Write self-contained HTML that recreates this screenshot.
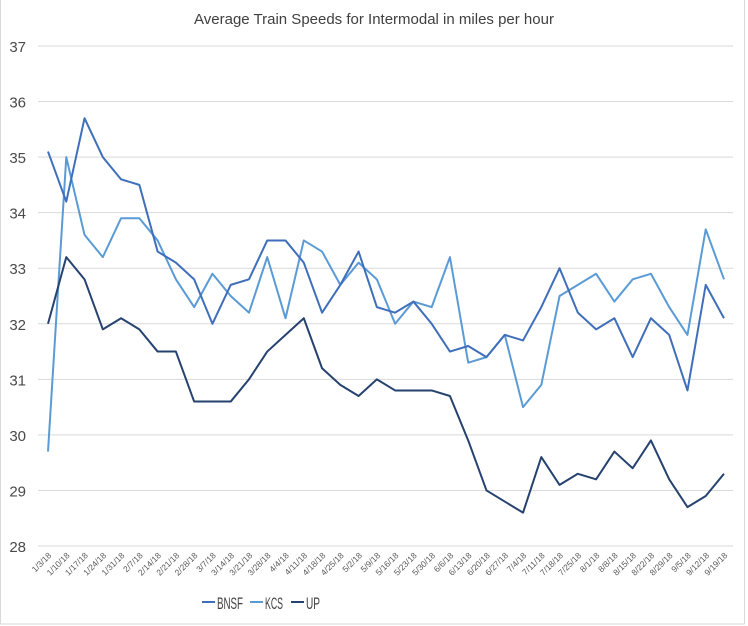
<!DOCTYPE html>
<html><head><meta charset="utf-8"><style>
body{margin:0;background:#fff;font-family:"Liberation Sans",sans-serif}
#wrap{position:relative;width:748px;height:626px;overflow:hidden}
</style></head><body>
<div id="wrap">
<svg id="chart" width="748" height="626"></svg>
</div>
<script>
const categories=["1/3/18","1/10/18","1/17/18","1/24/18","1/31/18","2/7/18","2/14/18","2/21/18","2/28/18","3/7/18","3/14/18","3/21/18","3/28/18","4/4/18","4/11/18","4/18/18","4/25/18","5/2/18","5/9/18","5/16/18","5/23/18","5/30/18","6/6/18","6/13/18","6/20/18","6/27/18","7/4/18","7/11/18","7/18/18","7/25/18","8/1/18","8/8/18","8/15/18","8/22/18","8/29/18","9/5/18","9/12/18","9/19/18"];
const bnsf=[35.1,34.2,35.7,35.0,34.6,34.5,33.3,33.1,32.8,32.0,32.7,32.8,33.5,33.5,33.1,32.2,32.7,33.3,32.3,32.2,32.4,32.0,31.5,31.6,31.4,31.8,31.7,32.3,33.0,32.2,31.9,32.1,31.4,32.1,31.8,30.8,32.7,32.1];
const kcs=[29.7,35.0,33.6,33.2,33.9,33.9,33.5,32.8,32.3,32.9,32.5,32.2,33.2,32.1,33.5,33.3,32.7,33.1,32.8,32.0,32.4,32.3,33.2,31.3,31.4,31.8,30.5,30.9,32.5,32.7,32.9,32.4,32.8,32.9,32.3,31.8,33.7,32.8];
const up=[32.0,33.2,32.8,31.9,32.1,31.9,31.5,31.5,30.6,30.6,30.6,31.0,31.5,31.8,32.1,31.2,30.9,30.7,31.0,30.8,30.8,30.8,30.7,29.9,29.0,28.8,28.6,29.6,29.1,29.3,29.2,29.7,29.4,29.9,29.2,28.7,28.9,29.3];
const yTicks=[28,29,30,31,32,33,34,35,36,37];

const NS="http://www.w3.org/2000/svg";
const svg=document.getElementById('chart');
const yMin=28,yMax=37,plotTop=46,plotBot=546,x0=48,x1=724;
const yS=v=>plotBot-(v-yMin)/(yMax-yMin)*(plotBot-plotTop);
const xS=i=>x0+i*(x1-x0)/(categories.length-1);
function mk(t,a){const e=document.createElementNS(NS,t);for(const k in a)e.setAttribute(k,a[k]);svg.appendChild(e);return e;}

const border=mk('rect',{x:0.5,y:-1,width:744,height:625,fill:'none',stroke:'#d9d9d9'});



const title=mk('text',{x:374,y:24,'text-anchor':'middle','font-size':15,fill:'#404040'});
title.textContent='Average Train Speeds for Intermodal in miles per hour';



yTicks.forEach(t=>{
  const g=mk('line',{x1:38,x2:733,y1:yS(t),y2:yS(t),stroke:'#d9d9d9','stroke-width':1});
  
  
  const l=mk('text',{x:26,y:yS(t)+6,'text-anchor':'end','font-size':15,fill:'#4a4a4a'});
  l.textContent=t;
  
  
});

categories.forEach((c,i)=>{
  const tx=xS(i)+4,ty=556;
  const l=mk('text',{x:tx,y:ty,'text-anchor':'end','font-size':8.5,fill:'#595959',transform:`rotate(-45 ${tx} ${ty})`});
  l.textContent=c;
  
  
});

function series(data,color,name){
  const p=mk('polyline',{points:data.map((v,i)=>xS(i)+','+yS(v)).join(' '),fill:'none',stroke:color,'stroke-width':2,'stroke-linejoin':'round'});
  
  
}
series(kcs,'#5b9bd5','kcs');
series(bnsf,'#3f6fba','bnsf');
series(up,'#26426f','up');

const legend=[['BNSF','#3f6fba',202,26],['KCS','#5b9bd5',250,18],['UP','#26426f',291,14]];
legend.forEach(([n,c,lx,w])=>{
  const sl=mk('line',{x1:lx,x2:lx+13,y1:602,y2:602,stroke:c,'stroke-width':2});
  
  
  const t=mk('text',{x:lx+15,y:609,'font-size':17,fill:'#404040',textLength:w,lengthAdjust:'spacingAndGlyphs'});
  t.textContent=n;
  
  
});
</script>
</body></html>
